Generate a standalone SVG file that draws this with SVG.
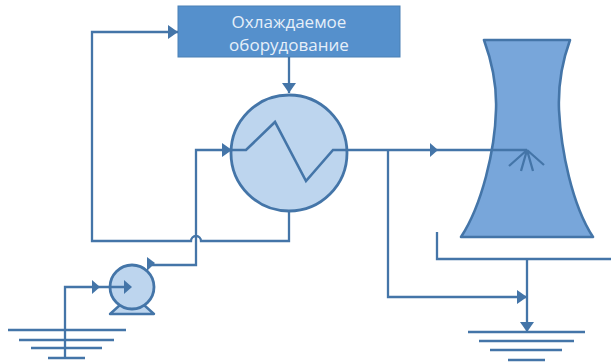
<svg xmlns="http://www.w3.org/2000/svg" width="611" height="362" viewBox="0 0 611 362">
<style>
.c{fill:none;stroke:#4475a8;stroke-width:2.3;stroke-linejoin:miter}
.w{fill:none;stroke:#4475a8;stroke-width:2.6}
.h{fill:#4475a8;stroke:none}
.t{font-family:"Open Sans","Liberation Sans",sans-serif;font-size:17px;fill:#e6eff9;text-anchor:middle}
</style>
<defs>
<marker id="a" markerUnits="userSpaceOnUse" markerWidth="12" markerHeight="14" refX="10" refY="7" orient="auto"><path d="M0 0L10 7L0 14Z" fill="#4475a8"/></marker>
</defs>
<rect width="611" height="362" fill="#fff"/>
<g id="tower">
<path d="M484 40H570C562 62 558 85 559 110C561 150 572 205 593 237H461C482 205 495 150 496 110C497 85 492 62 484 40Z" fill="#78a6da" stroke="#4475a8" stroke-width="2.6" stroke-linejoin="round"/>
</g>
<g id="equipment">
<rect x="178" y="6" width="222" height="51" fill="#5590cc" stroke="#4a80b5" stroke-width="1"/>
<text class="t" x="289" y="28">Охлаждаемое</text>
<text class="t" x="289" y="51">оборудование</text>
</g>
<g id="exchanger">
<circle cx="289" cy="153" r="58" fill="#bdd5ee" stroke="#4475a8" stroke-width="2.8"/>
<path class="w" d="M231 150H246L275 122L306 181L333 150H347"/>
</g>
<g id="pump">
<path d="M110 314L120 305H144L154 314Z" fill="#bdd5ee" stroke="#4475a8" stroke-width="2.4" stroke-linejoin="round"/>
<circle cx="132" cy="287" r="22" fill="#bdd5ee" stroke="#4475a8" stroke-width="2.8"/>
</g>
<g id="ground-left">
<path class="c" d="M8 330H126M19 340H114M31 348H102M48 358H85"/>
</g>
<g id="ground-right">
<path class="c" d="M468 332H585M479 341H574M490 350H562M508 360H545"/>
</g>
<g id="connectors">
<path class="c" marker-end="url(#a)" d="M289 57V93"/>
<path class="c" marker-end="url(#a)" d="M289 211V241H201A5 5 0 0 0 191 241H92V32H178"/>
<path class="c" marker-end="url(#a)" d="M150 265H196V150H232"/>
<path class="h" d="M147 257L155 263L147 271Z"/>
<path class="c" d="M65 358V287H130"/>
<path class="h" d="M92 280L100 287L92 294Z"/>
<path class="h" d="M124 280L132 287L124 294Z"/>
<path class="c" d="M347 150H527"/>
<path class="h" d="M430 143L438 150L430 157Z"/>
<path class="c" d="M527 150L509 166M527 150L521 171M527 150L533 171M527 150L544 165"/>
<path class="c" marker-end="url(#a)" d="M388 150V297H527"/>
<path class="c" d="M437 232V259H611"/>
<path class="c" marker-end="url(#a)" d="M527 259V332"/>
</g>
</svg>
